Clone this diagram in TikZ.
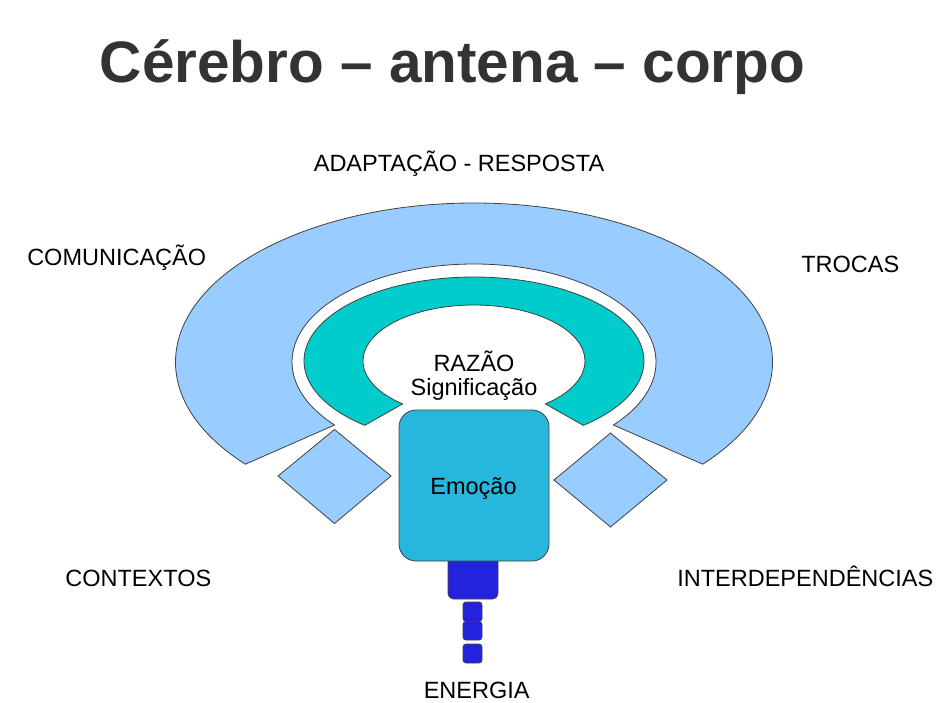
\documentclass[tikz,border=0pt]{standalone}
\usepackage{fontspec}
\setmainfont{Liberation Sans}
\usepackage{xcolor}
\usepackage{tikz}

\definecolor{ringblue}{RGB}{153,204,255}
\definecolor{razaoteal}{RGB}{0,204,204}
\definecolor{emocaoblue}{RGB}{39,183,221}
\definecolor{plugblue}{RGB}{35,35,221}
\definecolor{titlegray}{RGB}{51,51,51}

\begin{document}
\begin{tikzpicture}[x=1pt, y=-1pt,
  lbl/.style={font=\fontsize{23.5}{28}\selectfont, anchor=base, inner sep=0pt},
  outl/.style={draw=black!75, line width=0.8pt}]
\useasboundingbox (0,0) rectangle (937,702);

% Title
\node[font=\fontsize{58.5}{70}\selectfont\bfseries, text=titlegray, anchor=base, inner sep=0pt] (title) at (452.5,82) {Cérebro – antena – corpo};

% Outer ring (light blue)
\draw[outl, fill=ringblue] (474,362) ++(140:298.5 and 159)
  arc[start angle=140, end angle=400, x radius=298.5, y radius=159]
  -- ++(220:116.5 and 61)
  arc[start angle=40, end angle=-220, x radius=182, y radius=98] -- cycle;

% Inner ring (razao)
\draw[outl, fill=razaoteal] (474,361) ++(130:170 and 84)
  arc[start angle=130, end angle=410, x radius=170, y radius=84]
  -- ++(230:59 and 28)
  arc[start angle=50, end angle=-230, x radius=111, y radius=56] -- cycle;

% Side diamonds
\draw[outl, fill=ringblue] (278,476) -- (334.5,429.5) -- (391,476) -- (334.5,523.5) -- cycle;
\draw[outl, fill=ringblue] (554,480) -- (610.5,433) -- (667,480) -- (610.5,527) -- cycle;

% Plug and small blocks
\draw[outl, fill=plugblue, rounded corners=6pt] (448,550) rectangle (498,599);
\foreach \yt/\yb in {602/621.5, 621.5/640, 644/663}
  \draw[outl, fill=plugblue, rounded corners=3pt] (463,\yt) rectangle (482,\yb);

% Emocao box
\node[outl, fill=emocaoblue, rounded corners=17pt, minimum width=150pt, minimum height=151pt, inner sep=0pt] (emocao) at (474,485.5) {};
\node[lbl] (emocaotxt) at (473.5,494) {Emoção};

% Labels
\node[lbl] (adapt) at (459,171.7) {ADAPTAÇÃO - RESPOSTA};
\node[lbl] (comun) at (116.7,265) {COMUNICAÇÃO};
\node[lbl] (trocas) at (850.3,272.7) {TROCAS};
\node[lbl] (razao) at (474,371.7) {RAZÃO};
\node[lbl] (signif) at (474,395) {Significação};
\node[lbl] (contextos) at (138.3,586.7) {CONTEXTOS};
\node[lbl] (interdep) at (805.3,586.7) {INTERDEPENDÊNCIAS};
\node[lbl] (energia) at (476.7,698.3) {ENERGIA};
\end{tikzpicture}
\end{document}
